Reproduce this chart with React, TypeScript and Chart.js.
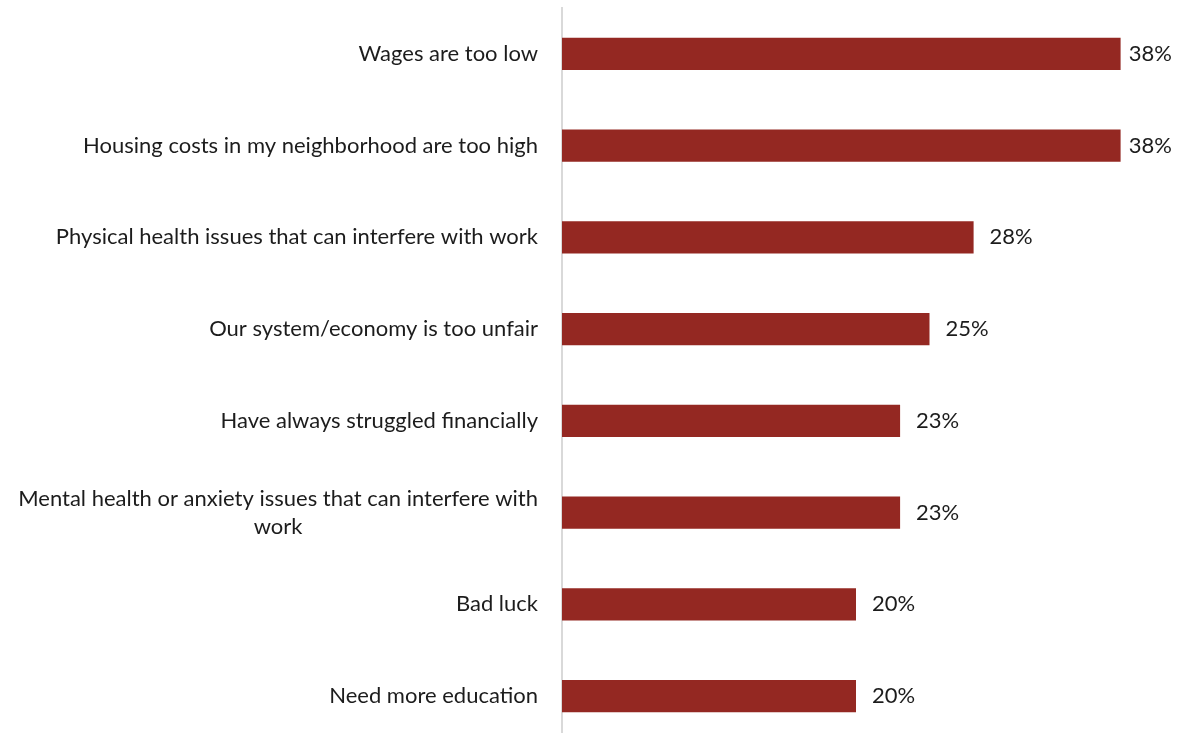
import React, { useEffect, useRef } from "react";
import { Chart, registerables } from "chart.js";

Chart.register(...registerables);

const categories: string[][] = [
  ["Wages are too low"],
  ["Housing costs in my neighborhood are too high"],
  ["Physical health issues that can interfere with work"],
  ["Our system/economy is too unfair"],
  ["Have always struggled financially"],
  ["Mental health or anxiety issues that can interfere with", "work"],
  ["Bad luck"],
  ["Need more education"],
];
const values: number[] = [38, 38, 28, 25, 23, 23, 20, 20];
const valueLabels: string[] = ["38%", "38%", "28%", "25%", "23%", "23%", "20%", "20%"];

const FONT = "Lato, 'Open Sans', sans-serif";
const FONT_SIZE = 22;
const LINE_H = 28;
const TEXT_COLOR = "#1c1c1c";

const labelPlugin = {
  id: "customLabels",
  afterDatasetsDraw(chart: any) {
    const ctx = chart.ctx;
    const yScale = chart.scales.y;
    const meta = chart.getDatasetMeta(0);
    ctx.save();
    ctx.font = `${FONT_SIZE}px ${FONT}`;
    ctx.fillStyle = TEXT_COLOR;
    ctx.textBaseline = "middle";
    const rightEdge = chart.chartArea.left - 24;
    categories.forEach((lines, i) => {
      const cy = yScale.getPixelForValue(i);
      const widths = lines.map((l) => ctx.measureText(l).width);
      const maxW = Math.max(...widths);
      const blockCenterX = rightEdge - maxW / 2;
      const startY = cy - ((lines.length - 1) * LINE_H) / 2;
      ctx.textAlign = "center";
      lines.forEach((l, j) => {
        ctx.fillText(l, blockCenterX, startY + j * LINE_H);
      });
    });
    ctx.textAlign = "left";
    meta.data.forEach((bar: any, i: number) => {
      const txt = valueLabels[i];
      const w = ctx.measureText(txt).width;
      let x = bar.x + 16;
      if (x + w > chart.width - 7) x = chart.width - 7 - w;
      ctx.fillText(txt, x, bar.y);
    });
    ctx.restore();
  },
};

export default function App() {
  const ref = useRef<HTMLCanvasElement | null>(null);
  useEffect(() => {
    if (!ref.current) return;
    const chart = new Chart(ref.current, {
      type: "bar",
      data: {
        labels: categories.map((c) => c.join(" ")),
        datasets: [
          {
            data: values,
            backgroundColor: "#942822",
            borderWidth: 0,
            barPercentage: 0.7,
            categoryPercentage: 0.5,
          },
        ],
      },
      options: {
        indexAxis: "y",
        animation: false,
        responsive: false,
        maintainAspectRatio: false,
        layout: { padding: { top: 8, bottom: 8, right: 29, left: 0 } },
        plugins: {
          legend: { display: false },
          tooltip: { enabled: false },
        },
        scales: {
          x: { display: false, min: 0, max: 40 },
          y: {
            grid: { display: false },
            border: { display: true, color: "#d9d9d9", width: 2 },
            ticks: { display: false },
            afterFit(scale: any) {
              scale.width = 562;
            },
          },
        },
      },
      plugins: [labelPlugin],
    });
    return () => chart.destroy();
  }, []);
  return (
    <div style={{ position: "absolute", left: 0, top: 0, width: 1179, height: 750, background: "#fff" }}>
      <canvas ref={ref} width={1179} height={750} style={{ display: "block" }} />
    </div>
  );
}
